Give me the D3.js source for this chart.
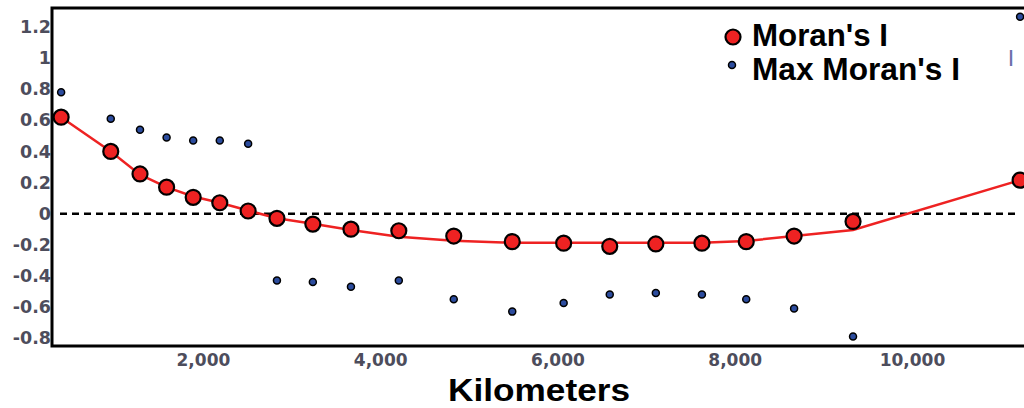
<!DOCTYPE html>
<html>
<head>
<meta charset="utf-8">
<script src="https://cdn.jsdelivr.net/npm/d3@7"></script>
<style>
  html, body { margin: 0; padding: 0; background: #fff; }
  svg { display: block; }
</style>
</head>
<body>
<svg id="chart" width="1024" height="408"></svg>
<script>
// Distance classes (km) of the correlogram
const distanceKm = [400, 960, 1290, 1590, 1890, 2190, 2510, 2835, 3240, 3670, 4210,
                    4830, 5490, 6070, 6590, 7110, 7630, 8130, 8670, 9335, 11220];
// Moran's I per distance class
const moransI = [0.62, 0.40, 0.255, 0.17, 0.105, 0.07, 0.017, -0.03, -0.067, -0.10, -0.11,
                 -0.144, -0.18, -0.19, -0.21, -0.195, -0.19, -0.18, -0.144, -0.05, 0.215];
// Max Moran's I per distance class
const maxMoransI = [0.78, 0.61, 0.54, 0.49, 0.47, 0.47, 0.45, -0.43, -0.44, -0.47, -0.43,
                    -0.55, -0.63, -0.575, -0.52, -0.51, -0.52, -0.55, -0.61, -0.79, 1.265];
// Smoothed trend through Moran's I
const trendI = [0.62, 0.40, 0.25, 0.17, 0.11, 0.07, 0.02, -0.03, -0.065, -0.105, -0.148,
                -0.174, -0.187, -0.187, -0.187, -0.187, -0.187, -0.176, -0.144, -0.105, 0.215];
const xTicks = [2000, 4000, 6000, 8000, 10000];
const yTicks = [-0.8, -0.6, -0.4, -0.2, 0, 0.2, 0.4, 0.6, 0.8, 1, 1.2];
const seriesNames = ["Moran's I", "Max Moran's I"];

const svg = d3.select("#chart");
const plotLeft = 52, plotTop = 8, plotBottom = 346, plotRight = 1024;

const x = d3.scaleLinear().domain([297, 11264]).range([plotLeft, plotRight]);
const y = d3.scaleLinear().domain([-0.851, 1.322]).range([plotBottom, plotTop]);

const red = "#ee2222", blue = "#2c4c9e";
const tickFont = "'DejaVu Sans', Verdana, sans-serif";
const labelFont = "'Liberation Sans', Arial, sans-serif";

// Y axis labels (no tick marks, labels abut the axis line)
const yAxis = d3.axisLeft(y).tickValues(yTicks).tickSize(0).tickPadding(1)
  .tickFormat(d => String(+d.toFixed(1)));
const gy = svg.append("g").attr("transform", `translate(${plotLeft},0)`).call(yAxis);
gy.select(".domain").remove();
gy.selectAll("text")
  .attr("font-family", tickFont).attr("font-weight", "bold")
  .attr("font-size", 17.5).attr("fill", "#4d4d5c");

// X axis labels
const xAxis = d3.axisBottom(x).tickValues(xTicks).tickSize(0).tickPadding(8)
  .tickFormat(d3.format(","));
const gx = svg.append("g").attr("transform", `translate(0,${plotBottom})`).call(xAxis);
gx.select(".domain").remove();
gx.selectAll("text")
  .attr("font-family", tickFont).attr("font-weight", "bold")
  .attr("font-size", 17).attr("fill", "#4d4d5c");

// Frame lines: left, top, bottom
svg.append("path")
  .attr("d", `M${plotRight},${plotTop}H${plotLeft}V${plotBottom}H${plotRight}`)
  .attr("fill", "none").attr("stroke", "#000").attr("stroke-width", 3);

// Zero reference line
svg.append("line")
  .attr("x1", 60).attr("x2", 1016)
  .attr("y1", y(0)).attr("y2", y(0))
  .attr("stroke", "#000").attr("stroke-width", 2.5)
  .attr("stroke-dasharray", "7,5");

// Trend line
const line = d3.line().x((d, i) => x(distanceKm[i])).y(d => y(d));
svg.append("path").datum(trendI)
  .attr("d", line)
  .attr("fill", "none").attr("stroke", red).attr("stroke-width", 2.5);

// Moran's I markers
svg.append("g").selectAll("circle").data(moransI).join("circle")
  .attr("cx", (d, i) => x(distanceKm[i])).attr("cy", d => y(d))
  .attr("r", 7.5).attr("fill", red).attr("stroke", "#000").attr("stroke-width", 2.2);

// Max Moran's I markers
svg.append("g").selectAll("circle").data(maxMoransI).join("circle")
  .attr("cx", (d, i) => x(distanceKm[i])).attr("cy", d => y(d))
  .attr("r", 3.5).attr("fill", blue).attr("stroke", "#000").attr("stroke-width", 1.5);

// Legend
const legend = svg.append("g");
legend.append("circle").attr("cx", 733).attr("cy", 37).attr("r", 7.5)
  .attr("fill", red).attr("stroke", "#000").attr("stroke-width", 2.2);
legend.append("circle").attr("cx", 732).attr("cy", 65).attr("r", 3.5)
  .attr("fill", blue).attr("stroke", "#000").attr("stroke-width", 1.5);
legend.append("text").attr("x", 752).attr("y", 46)
  .attr("font-family", labelFont).attr("font-weight", "bold").attr("font-size", 32)
  .attr("textLength", 136).attr("lengthAdjust", "spacingAndGlyphs")
  .attr("fill", "#000").text(seriesNames[0]);
legend.append("text").attr("x", 752).attr("y", 80)
  .attr("font-family", labelFont).attr("font-weight", "bold").attr("font-size", 32)
  .attr("textLength", 208).attr("lengthAdjust", "spacingAndGlyphs")
  .attr("fill", "#000").text(seriesNames[1]);

// Stray error-bar glyph near the top-right
svg.append("text").attr("x", 1011).attr("y", 66).attr("text-anchor", "middle")
  .attr("font-family", tickFont).attr("font-size", 22).attr("fill", "#6b70aa").text("I");

// X axis title
svg.append("text").attr("x", 539).attr("y", 401).attr("text-anchor", "middle")
  .attr("font-family", labelFont).attr("font-weight", "bold").attr("font-size", 32)
  .attr("textLength", 182).attr("lengthAdjust", "spacingAndGlyphs")
  .attr("fill", "#000").text("Kilometers");
</script>
</body>
</html>
